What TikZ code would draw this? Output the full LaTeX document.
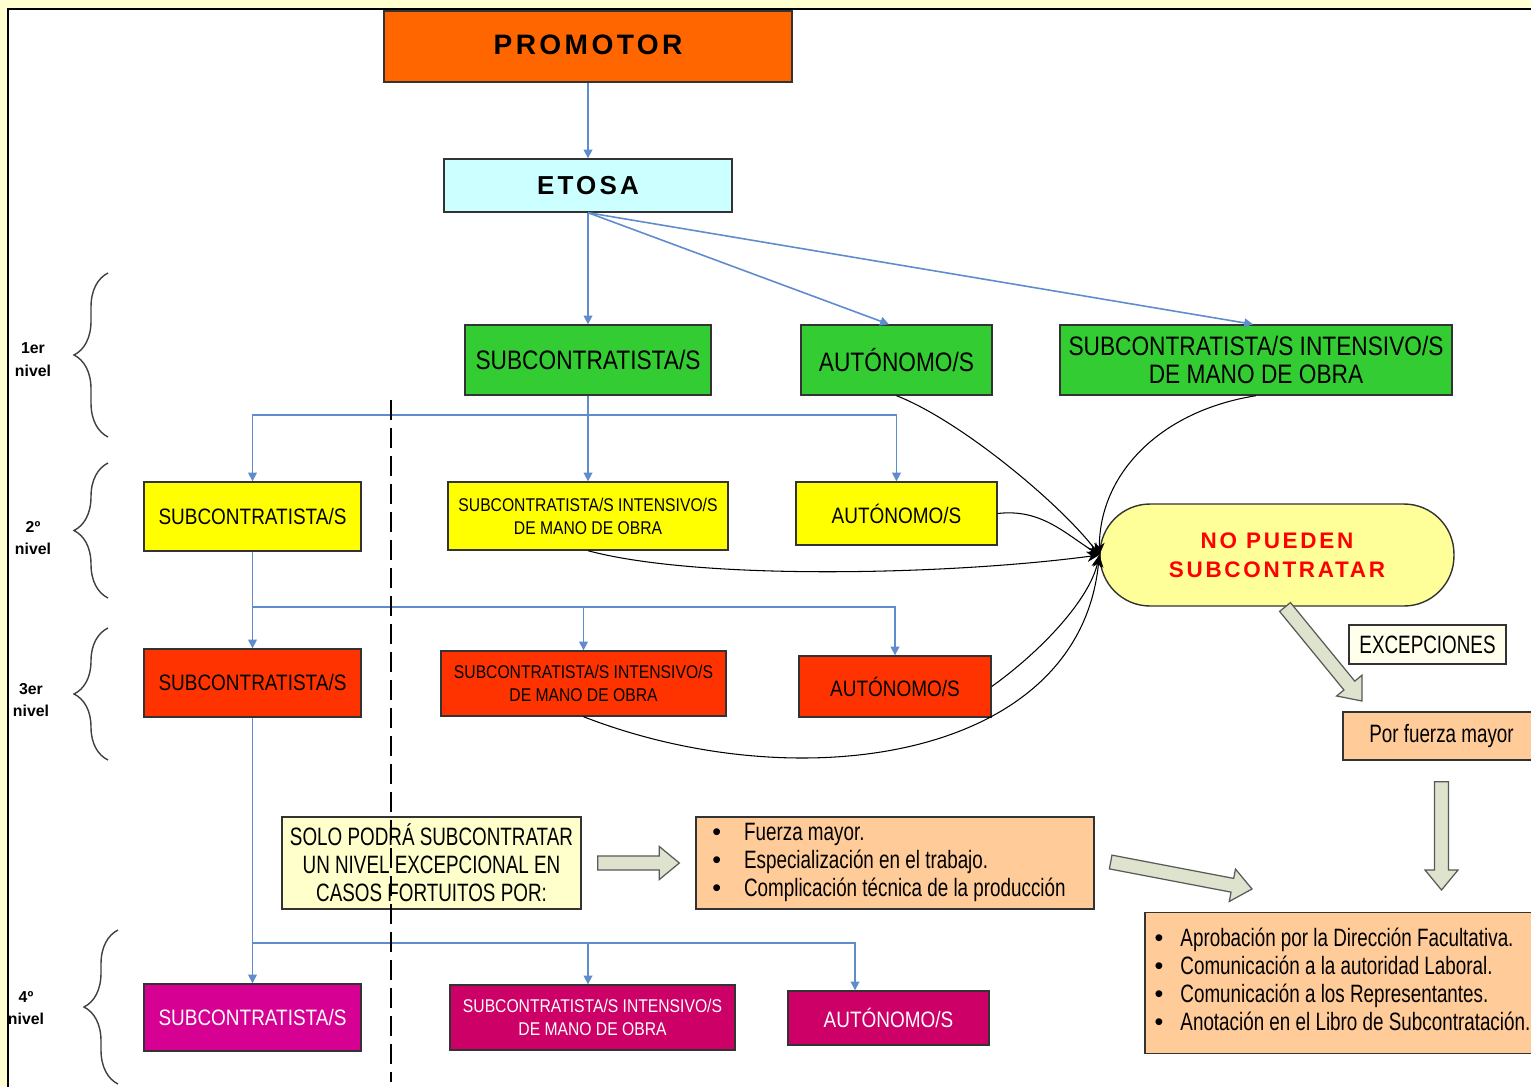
\documentclass[tikz,border=0pt]{standalone}
\usepackage{fontspec}
\setmainfont{Liberation Sans}
\newfontfamily\narrowfont[FakeStretch=0.85]{Liberation Sans}
\newfontfamily\thinfont[FakeStretch=0.75]{Liberation Sans}
\newfontfamily\widefont[LetterSpace=12]{Liberation Sans}
\usepackage{xcolor}
\usetikzlibrary{calc}
\usetikzlibrary{arrows.meta}
\usetikzlibrary{positioning}
\usetikzlibrary{decorations.pathreplacing}

\definecolor{pagebg}{RGB}{255,255,208}
\definecolor{promorange}{RGB}{255,102,0}
\definecolor{etosacyan}{RGB}{204,255,255}
\definecolor{lvlgreen}{RGB}{51,204,51}
\definecolor{lvlyellow}{RGB}{255,255,0}
\definecolor{lvlred}{RGB}{255,51,0}
\definecolor{lvlpink}{RGB}{214,0,147}
\definecolor{lvlwine}{RGB}{204,0,102}
\definecolor{nogoyellow}{RGB}{255,255,153}
\definecolor{notecream}{RGB}{255,255,204}
\definecolor{tagcream}{RGB}{255,255,236}
\definecolor{peach}{RGB}{255,204,153}
\definecolor{linkblue}{RGB}{95,140,205}
\definecolor{fatgreen}{RGB}{221,227,204}

\newcommand{\fatarrow}[2]{%
	\path (#1) coordinate (fa1) (#2) coordinate (fa2);
	\path ($(fa2)!0.4cm!(fa1)$) coordinate (fah);
	\draw[fat] ($(fa1)!0.14cm!90:(fa2)$) -- ($(fah)!0.14cm!-90:(fa1)$) -- ($(fah)!0.33cm!-90:(fa1)$) -- (fa2)
		-- ($(fah)!0.33cm!90:(fa1)$) -- ($(fah)!0.14cm!90:(fa1)$) -- ($(fa1)!0.14cm!-90:(fa2)$) -- cycle;}
\newcommand{\dotmark}{{\normalfont\textbullet}}

\begin{document}
\begin{tikzpicture}[x=0.02cm, y=-0.02cm,
		box/.style={draw=black!80, line width=0.8pt, align=center, inner sep=1pt},
		lvlone/.style={box, fill=lvlgreen, minimum height=1.4cm, font=\narrowfont\fontsize{15.2}{15.5}\selectfont},
		lvltwo/.style={box, fill=lvlyellow, font=\narrowfont\fontsize{12.7}{15}\selectfont},
		lvlthree/.style={box, fill=lvlred, font=\narrowfont\fontsize{12.7}{15}\selectfont},
		lvlfour/.style={box, text=white, font=\narrowfont\fontsize{12.7}{15}\selectfont},
		longtext/.style={font=\narrowfont\fontsize{10.5}{13}\selectfont},
		note/.style={box, font=\thinfont\fontsize{14.3}{16}\selectfont},
		lvllabel/.style={align=center, font=\bfseries\fontsize{9}{13}\selectfont},
		lvlbrace/.style={draw=black!75, line width=0.8pt, decorate, decoration={brace, amplitude=0.68cm, aspect=0.5}},
		bluearrow/.style={draw=linkblue, line width=0.9pt, -{Triangle[length=5pt, width=5pt]}},
		blueline/.style={draw=linkblue, line width=0.9pt},
		nogo/.style={draw=black, line width=0.6pt, -{Stealth[length=7pt, width=6pt]}},
		fat/.style={fill=fatgreen, draw=black!65, line width=0.7pt}]

		\useasboundingbox (0,0) rectangle (1531,1086);
		\fill[pagebg] (0,0) rectangle (1531,1086);
		\draw[line width=1.6pt, fill=white] (8,9) rectangle (1580,1120);

		\node[box, fill=promorange, minimum width=8.16cm, minimum height=1.42cm, font=\widefont\bfseries\fontsize{16}{19}\selectfont] (promotor) at (588,46.5) {\raisebox{2pt}{PROMOTOR}};
		\node[box, fill=etosacyan, minimum width=5.76cm, minimum height=1.06cm, font=\widefont\bfseries\fontsize{14.8}{18}\selectfont] (etosa) at (588,185.5) {ETOSA};

		\node[lvlone, minimum width=4.92cm] (g1) at (588,360) {SUBCONTRATISTA/S};
		\node[lvlone, minimum width=3.82cm] (g2) at (896.5,360) {AUTÓNOMO/S};
		\node[lvlone, minimum width=7.84cm] (g3) at (1256,360) {SUBCONTRATISTA/S INTENSIVO/S\\DE MANO DE OBRA};

		\node[lvltwo, minimum width=4.34cm, minimum height=1.38cm] (y1) at (252.5,516.5) {SUBCONTRATISTA/S};
		\node[lvltwo, longtext, minimum width=5.6cm, minimum height=1.36cm] (y2) at (588,516) {SUBCONTRATISTA/S INTENSIVO/S\\DE MANO DE OBRA};
		\node[lvltwo, minimum width=4.02cm, minimum height=1.26cm] (y3) at (896.5,513.5) {AUTÓNOMO/S};

		\node[lvlthree, minimum width=4.34cm, minimum height=1.36cm] (r1) at (252.5,683) {SUBCONTRATISTA/S};
		\node[lvlthree, longtext, minimum width=5.7cm, minimum height=1.3cm] (r2) at (583.5,683.5) {SUBCONTRATISTA/S INTENSIVO/S\\DE MANO DE OBRA};
		\node[lvlthree, minimum width=3.84cm, minimum height=1.22cm] (r3) at (895,686.5) {AUTÓNOMO/S};

		\node[lvlfour, fill=lvlpink, minimum width=4.34cm, minimum height=1.34cm] (m1) at (252.5,1017.5) {SUBCONTRATISTA/S};
		\node[lvlfour, longtext, fill=lvlwine, minimum width=5.7cm, minimum height=1.3cm] (m2) at (592.5,1017.5) {SUBCONTRATISTA/S INTENSIVO/S\\DE MANO DE OBRA};
		\node[lvlfour, fill=lvlwine, minimum width=4.02cm, minimum height=1.08cm] (m3) at (888.5,1018) {AUTÓNOMO/S};

		\node[lvllabel] (lbl1) at (33,360) {1er\\nivel};
		\node[lvllabel] (lbl2) at (33,538) {2º\\nivel};
		\node[lvllabel] (lbl3) at (31,700) {3er\\nivel};
		\node[lvllabel] (lbl4) at (26,1008) {4º\\nivel};
		\draw[lvlbrace] (108,437) -- (108,273);
		\draw[lvlbrace] (108,598) -- (108,463);
		\draw[lvlbrace] (108,760) -- (108,628);
		\draw[lvlbrace] (118,1084) -- (118,930);

		\node[box, fill=nogoyellow, rounded corners=1cm, minimum width=7.08cm, minimum height=2.04cm, text=red, font=\widefont\bfseries\fontsize{12.8}{16.5}\selectfont] (nopueden) at (1277,555) {NO PUEDEN\\SUBCONTRATAR};
		\node[note, fill=tagcream, minimum width=3.14cm, minimum height=0.78cm] (excep) at (1427.5,644.5) {EXCEPCIONES};
		\node[note, fill=peach, minimum width=3.94cm, minimum height=0.96cm] (fuerza) at (1441.5,736) {Por fuerza mayor};
		\node[note, fill=notecream, minimum width=5.98cm, minimum height=1.84cm] (solo) at (431.5,863) {SOLO PODRÁ SUBCONTRATAR\\UN NIVEL EXCEPCIONAL EN\\CASOS FORTUITOS POR:};
		\node[note, fill=peach, minimum width=7.96cm, minimum height=1.84cm] (causes) at (895,863) {\begin{tabular}{@{}l@{\hspace{0.46cm}}l@{\hspace{0.24cm}}}
			\dotmark & Fuerza mayor.\\
			\dotmark & Especialización en el trabajo.\\
			\dotmark & Complicación técnica de la producción
		\end{tabular}};
		\node[note, fill=peach, minimum width=7.9cm, minimum height=2.82cm] (steps) at (1342.5,983) {\begin{tabular}{@{}l@{\hspace{0.34cm}}l@{}}
			\dotmark & Aprobación por la Dirección Facultativa.\\
			\dotmark & Comunicación a la autoridad Laboral.\\
			\dotmark & Comunicación a los Representantes.\\
			\dotmark & Anotación en el Libro de Subcontratación.
		\end{tabular}};

		\draw[bluearrow] (promotor) -- (etosa);
		\draw[bluearrow] (etosa.south) -- (g1.north);
		\draw[bluearrow] (etosa.south) -- ([xshift=-0.15cm]g2.north);
		\draw[bluearrow] (etosa.south) -- ([xshift=-0.06cm]g3.north);

		\coordinate (j1) at (588,415);
		\coordinate (j2) at (252.5,607);
		\coordinate (j3) at (252.5,943);
		\draw[blueline] (g1.south) -- (j1);
		\draw[bluearrow] (j1) -| (y1.north);
		\draw[bluearrow] (j1) -- (y2.north);
		\draw[bluearrow] (j1) -| (y3.north);
		\draw[blueline] (y1.south) -- (j2);
		\draw[bluearrow] (j2) -- (r1.north);
		\draw[bluearrow] (j2) -| (r2.north);
		\draw[bluearrow] (j2) -| (r3.north);
		\draw[blueline] (r1.south) -- (j3);
		\draw[bluearrow] (j3) -- (m1.north);
		\draw[bluearrow] (j3) -| ([xshift=-0.09cm]m2.north);
		\draw[bluearrow] (j3) -| ([xshift=-0.67cm]m3.north);

		\draw[black, line width=0.7pt, dash pattern=on 0.4cm off 0.16cm] (391,400) -- (391,1082);

		\draw[nogo] (g2.south) .. controls +(64,25) and +(-40,-52) .. (nopueden.west);
		\draw[nogo] (g3.south) .. controls +(-95,15) and +(0,-82) .. (nopueden.west);
		\draw[nogo] (y3.east) .. controls +(43,-5) and +(-35,-22) .. (nopueden.west);
		\draw[nogo] (y2.south) .. controls +(112,30) and +(-150,20) .. (nopueden.west);
		\draw[nogo] (r3.east) .. controls +(49,-35) and +(-10,45) .. (nopueden.west);
		\draw[nogo] (r2.south) .. controls +(216,84) and +(-20,205) .. (nopueden.west);

		\coordinate (exA) at (1285,607);
		\coordinate (exB) at (1362,701);
		\coordinate (soA) at ($(solo.east)+(16,0)$);
		\coordinate (soB) at ($(causes.west)+(-16,0)$);
		\coordinate (caA) at ($(causes.east)+(16,-1)$);
		\coordinate (caB) at (1252,889);
		\coordinate (fuA) at ($(fuerza.south)+(0,21)$);
		\coordinate (fuB) at (1441.5,890);
		\fatarrow{exA}{exB}
		\fatarrow{soA}{soB}
		\fatarrow{caA}{caB}
		\fatarrow{fuA}{fuB}

\end{tikzpicture}
\end{document}
